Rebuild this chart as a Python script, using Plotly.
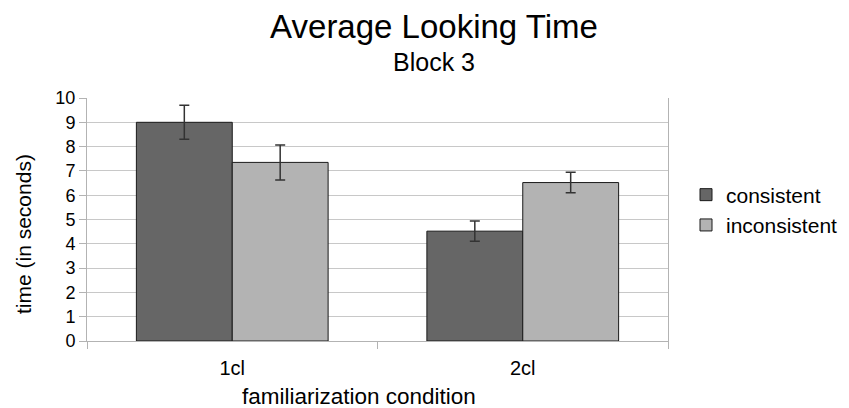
import plotly.graph_objects as go

categories = ["1cl", "2cl"]
consistent = [9.0, 4.52]
consistent_err = [0.7, 0.42]
inconsistent = [7.35, 6.52]
inconsistent_err = [0.72, 0.42]
y_ticks = list(range(0, 11))

FONT = "Liberation Sans, Arial, sans-serif"

# page has an 8px body margin, so the figure is drawn at (8, 8)
W, H = 841, 400
PL, PT, PW, PH = 87, 98, 581, 243  # plot area in page pixels


def px(x):
    return (x - PL) / PW


def py(y):
    return (PT + PH - y) / PH


fig = go.Figure()
fig.add_trace(go.Bar(
    name="consistent", x=categories, y=consistent,
    marker=dict(color="#666666", line=dict(color="#1a1a1a", width=1)),
    error_y=dict(type="data", array=consistent_err, color="#333333", thickness=1.5, width=5),
))
fig.add_trace(go.Bar(
    name="inconsistent", x=categories, y=inconsistent,
    marker=dict(color="#b3b3b3", line=dict(color="#1a1a1a", width=1)),
    error_y=dict(type="data", array=inconsistent_err, color="#333333", thickness=1.5, width=5),
))

fig.update_layout(
    width=W, height=H,
    margin=dict(l=PL - 8, r=W + 8 - PL - PW, t=PT - 8, b=H + 8 - PT - PH, autoexpand=False),
    paper_bgcolor="white", plot_bgcolor="white",
    font=dict(family=FONT, color="black"),
    barmode="group", bargap=0.34, bargroupgap=0,
    title=dict(text="Average Looking Time", x=(434 - 8) / W, xanchor="center",
               xref="container", yref="container", y=1 - 18 / H, yanchor="middle",
               font=dict(size=33, family=FONT, color="black")),
    annotations=[
        dict(text="Block 3", xref="paper", yref="paper",
             x=px(434), y=py(62), xanchor="center", yanchor="middle",
             showarrow=False, font=dict(size=25, family=FONT, color="black")),
        dict(text="familiarization condition", xref="paper", yref="paper",
             x=px(359), y=py(396), xanchor="center", yanchor="middle",
             showarrow=False, font=dict(size=22.5, family=FONT, color="black")),
        dict(text="time (in seconds)", xref="paper", yref="paper", textangle=-90,
             x=px(23), y=py(234), xanchor="center", yanchor="middle",
             showarrow=False, font=dict(size=21, family=FONT, color="black")),
    ],
    legend=dict(x=px(686), y=py(210), xanchor="left", yanchor="middle",
                font=dict(size=21, family=FONT, color="black"), itemwidth=30,
                bgcolor="rgba(0,0,0,0)"),
    showlegend=True,
)
fig.update_xaxes(
    type="category", showgrid=False, showline=True, linecolor="#b3b3b3", linewidth=1,
    ticks="outside", tickson="boundaries", ticklen=7, tickcolor="#b3b3b3",
    tickfont=dict(size=20, family=FONT, color="black"), ticklabelstandoff=9,
    automargin=False,
)
fig.update_yaxes(
    range=[0, 10], tickvals=y_ticks, showgrid=True, gridcolor="#c8c8c8", gridwidth=1,
    showline=True, mirror=True, linecolor="#b3b3b3", linewidth=1,
    ticks="outside", ticklen=7, tickcolor="#b3b3b3", zeroline=False,
    tickfont=dict(size=18, family=FONT, color="black"), automargin=False,
)

fig.write_html("out.html")
